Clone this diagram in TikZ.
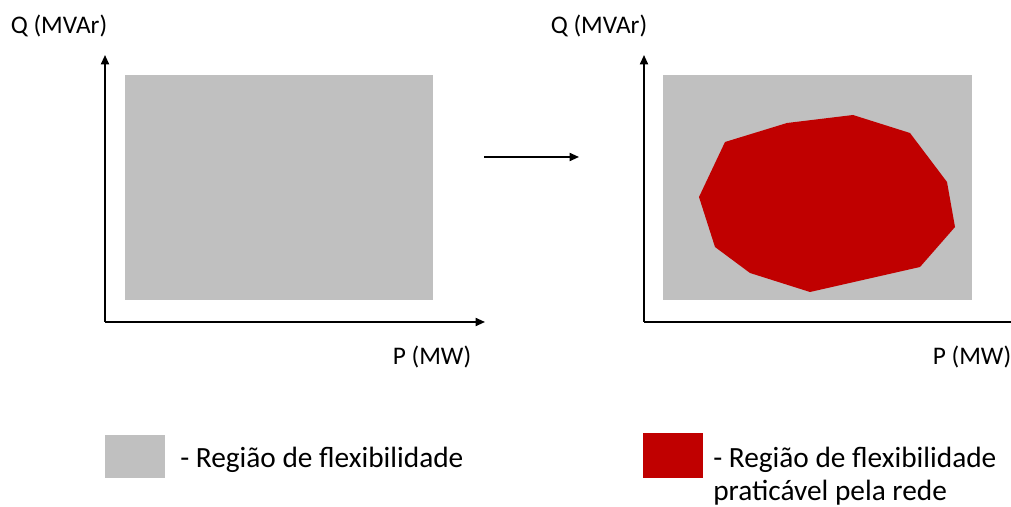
\documentclass[tikz,border=0pt]{standalone}
\usepackage{fontspec}
\setmainfont{Carlito}
\usetikzlibrary{arrows.meta,positioning}

\definecolor{cinza}{HTML}{C0C0C0}
\definecolor{vermelho}{HTML}{C00000}

\tikzset{
  eixo/.style={line width=1.3pt,-{Triangle[length=7pt,width=6pt]}},
  rotulo/.style={font=\fontsize{19}{23}\selectfont,inner sep=0pt},
  legenda/.style={font=\fontsize{22}{24.75}\selectfont,inner sep=0pt,anchor=west,align=left}
}

\begin{document}
\begin{tikzpicture}[x=0.75pt,y=0.75pt]
        \useasboundingbox (0,0) rectangle (1011,507);
        \clip (0,0) rectangle (1011,507);
        % regiao de flexibilidade
        \fill[cinza] (125,207) rectangle (433,432);
        \fill[cinza] (663,207) rectangle (972,432);
        % regiao praticavel
        \fill[vermelho] (725,365) -- (787,384) -- (853,392) -- (910,374) -- (947,325) -- (955,280)
             -- (920,240) -- (810,215) -- (750,234) -- (715,260) -- (699,310) -- cycle;
        % eixos
        \coordinate (o1) at (105,185);
        \coordinate (q1) at (105,452);
        \coordinate (p1) at (485,185);
        \coordinate (o2) at (644,185);
        \coordinate (q2) at (644,452);
        \coordinate (p2) at (1030,185);
        \draw[eixo] (o1) -- (q1);
        \draw[eixo] (o1) -- (p1);
        \draw[eixo] (o2) -- (q2);
        \draw[eixo] (o2) -- (p2);
        \node[rotulo] (qlab1) at (59,481) {Q (MVAr)};
        \node[rotulo] (plab1) at (432,150) {P (MW)};
        \node[rotulo] (qlab2) at (599,481) {Q (MVAr)};
        \node[rotulo] (plab2) at (972,150) {P (MW)};
        % seta do meio
        \coordinate (a) at (484,350);
        \coordinate (b) at (579,350);
        \draw[eixo] (a) -- (b);
        % legenda
        \fill[cinza] (105,29) rectangle (165,72);
        \node[legenda] (leg1) at (180,47) {- Região de flexibilidade};
        \fill[vermelho] (643,29) rectangle (703,74);
        \node[legenda] (leg2) at (713,31) {- Região de flexibilidade\\praticável pela rede};
\end{tikzpicture}
\end{document}
